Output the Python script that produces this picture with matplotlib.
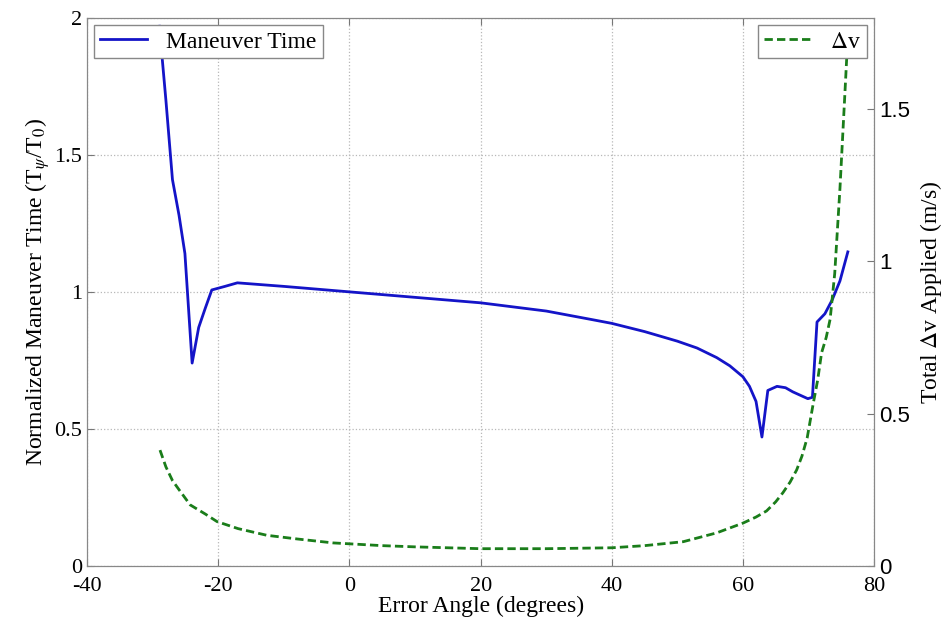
import numpy as np
import matplotlib
matplotlib.use("Agg")
import matplotlib.pyplot as plt

plt.rcParams['font.family'] = ['Liberation Serif', 'DejaVu Serif']
plt.rcParams['mathtext.fontset'] = 'stix'
plt.rcParams['axes.unicode_minus'] = False

# maneuver time (left axis)
ang_t = [-29.0, -28.0, -27.0, -26.0, -25.1, -24.0, -23.0, -22.0, -21.0, -19.0,
         -17.1, -10.0, 0.0, 10.0, 20.0, 30.0, 36.7, 40.0, 45.0, 50.0, 53.0,
         56.0, 58.0, 60.0, 61.0, 62.0, 62.9, 63.8, 65.2, 66.5, 67.6, 69.9,
         70.6, 71.3, 72.5, 73.6, 74.8, 76.0]
t_norm = [1.97, 1.70, 1.41, 1.28, 1.14, 0.74, 0.87, 0.94, 1.007, 1.02,
          1.033, 1.02, 1.0, 0.98, 0.96, 0.93, 0.90, 0.885, 0.855, 0.82, 0.795,
          0.76, 0.73, 0.69, 0.655, 0.60, 0.47, 0.64, 0.655, 0.65, 0.635, 0.61,
          0.615, 0.89, 0.92, 0.97, 1.04, 1.146]

# total delta-v (right axis)
ang_dv = [-28.9, -28.0, -27.0, -26.0, -24.3, -22.0, -20.2, -17.0, -12.6, -8.0,
          -2.5, 5.0, 10.0, 20.0, 30.0, 40.0, 45.0, 50.9, 56.0, 60.0, 62.0,
          63.6, 65.0, 66.1, 67.2, 68.2, 69.0, 69.8, 70.7, 71.4, 72.0, 72.7,
          73.3, 74.0, 74.8, 75.5, 76.0]
dv = [0.38, 0.325, 0.28, 0.25, 0.20, 0.17, 0.145, 0.122, 0.10, 0.088,
      0.075, 0.066, 0.062, 0.056, 0.056, 0.059, 0.066, 0.079, 0.108, 0.14, 0.16,
      0.18, 0.21, 0.24, 0.275, 0.315, 0.36, 0.42, 0.53, 0.61, 0.70, 0.75,
      0.81, 0.96, 1.24, 1.53, 1.74]

fig = plt.figure(figsize=(9.48, 6.21), dpi=100)
ax1 = fig.add_axes([0.092, 0.089, 0.830, 0.882])
ax2 = ax1.twinx()

l1, = ax1.plot(ang_t, t_norm, color='#1414c8', lw=2.0, label='Maneuver Time')
l2, = ax2.plot(ang_dv, dv, color='#1a7d1a', lw=2.0, ls=(0, (3, 1.5)), label=r'$\Delta$v')

ax1.set_xlim(-40, 80)
ax1.set_ylim(0, 2)
ax2.set_ylim(0, 1.8)
ax1.set_xticks([-40, -20, 0, 20, 40, 60, 80])
ax1.set_xticklabels(['-40', '-20', '0', '20', '40', '60', '80'])
ax1.set_yticks([0, 0.5, 1, 1.5, 2])
ax1.set_yticklabels(['0', '0.5', '1', '1.5', '2'])
ax2.set_yticks([0, 0.5, 1, 1.5])
ax2.set_yticklabels(['0', '0.5', '1', '1.5'], family=['Liberation Sans', 'DejaVu Sans'])

ax1.grid(True, color='#b8b8b8', ls=':', lw=0.9)
ax1.tick_params(direction='in', labelsize=16, length=5, color='#777777', top=True)
ax1.tick_params(axis='x', pad=8)
ax2.tick_params(direction='in', labelsize=16, length=5, color='#777777')
for ax in (ax1, ax2):
    for s in ax.spines.values():
        s.set_color('#888888')

ax1.set_xlabel('Error Angle (degrees)', fontsize=17, labelpad=0)
ax1.set_ylabel(r'Normalized Maneuver Time (T$_\psi$/T$_0$)', fontsize=17, labelpad=2)
ax2.set_ylabel(r'Total $\Delta$v Applied (m/s)', fontsize=17, labelpad=6)

lg1 = ax1.legend(handles=[l1], loc='upper left', fontsize=17, fancybox=False,
                 edgecolor='#888888', framealpha=1, borderaxespad=0.3,
                 handlelength=2.0, borderpad=0.25)
lg2 = ax2.legend(handles=[l2], loc='upper right', fontsize=17, fancybox=False,
                 edgecolor='#888888', framealpha=1, borderaxespad=0.3,
                 handlelength=2.0, borderpad=0.25)

fig.savefig('out.png', dpi=100)
